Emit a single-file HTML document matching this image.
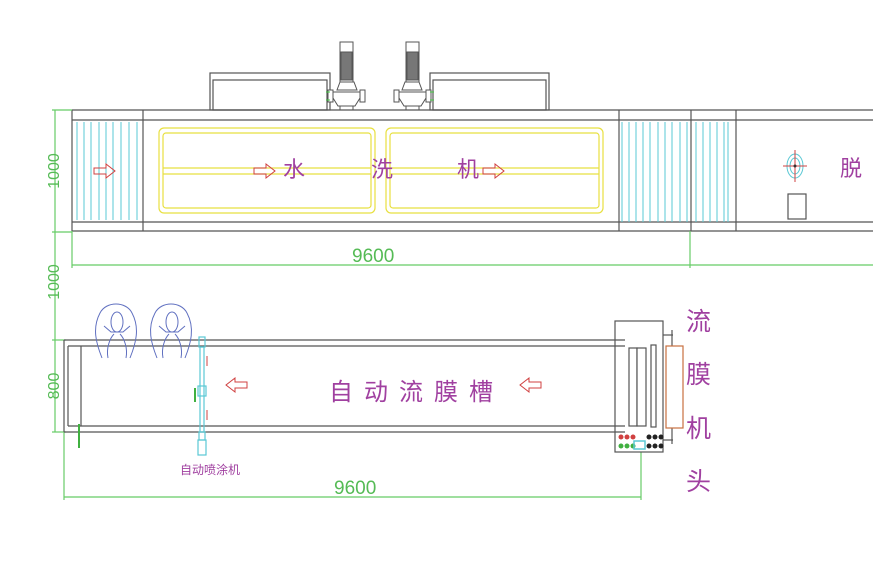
<!DOCTYPE html>
<html><head><meta charset="utf-8"><style>
body{margin:0;background:#fff;width:873px;height:561px;overflow:hidden}
svg{display:block}
text{font-family:"Liberation Sans","Noto Sans CJK SC",sans-serif}
</style></head><body>
<svg width="873" height="561" viewBox="0 0 873 561">
<g fill="none" stroke="#555" stroke-width="1.2">
<!-- top tanks -->
<rect x="210" y="73" width="120" height="37"/><rect x="213" y="80" width="114" height="30"/>
<rect x="430" y="73" width="119" height="37"/><rect x="433" y="80" width="113" height="30"/>
<!-- top machine -->
<line x1="72" y1="110" x2="873" y2="110"/>
<line x1="72" y1="120" x2="873" y2="120"/>
<line x1="72" y1="222" x2="873" y2="222"/>
<line x1="72" y1="231" x2="873" y2="231"/>
<line x1="72" y1="110" x2="72" y2="231"/>
<line x1="143" y1="110" x2="143" y2="231"/>
<line x1="619" y1="110" x2="619" y2="231"/>
<line x1="691" y1="110" x2="691" y2="231"/>
<line x1="736" y1="110" x2="736" y2="231"/>
<rect x="788" y="194" width="18" height="25"/>
</g>
<!-- cyan slats -->
<g stroke="#5ac8d4" stroke-width="1">
<line x1="77" y1="122" x2="77" y2="220"/><line x1="84" y1="122" x2="84" y2="220"/><line x1="91" y1="122" x2="91" y2="220"/><line x1="99" y1="122" x2="99" y2="220"/><line x1="106" y1="122" x2="106" y2="220"/><line x1="113" y1="122" x2="113" y2="220"/><line x1="121" y1="122" x2="121" y2="220"/><line x1="129" y1="122" x2="129" y2="220"/><line x1="137" y1="122" x2="137" y2="220"/>
<line x1="622" y1="122" x2="622" y2="222"/><line x1="629" y1="122" x2="629" y2="222"/><line x1="636" y1="122" x2="636" y2="222"/><line x1="643" y1="122" x2="643" y2="222"/><line x1="650" y1="122" x2="650" y2="222"/><line x1="658" y1="122" x2="658" y2="222"/><line x1="665" y1="122" x2="665" y2="222"/><line x1="672" y1="122" x2="672" y2="222"/><line x1="680" y1="122" x2="680" y2="222"/><line x1="687" y1="122" x2="687" y2="222"/>
<line x1="696" y1="122" x2="696" y2="222"/><line x1="703" y1="122" x2="703" y2="222"/><line x1="710" y1="122" x2="710" y2="222"/><line x1="717" y1="122" x2="717" y2="222"/><line x1="724" y1="122" x2="724" y2="222"/><line x1="728" y1="122" x2="728" y2="222"/>
</g>
<!-- yellow troughs -->
<g fill="none" stroke="#e8e040" stroke-width="1.2">
<rect x="159" y="128" width="216" height="85" rx="5"/><rect x="163" y="133" width="208" height="75" rx="3"/>
<line x1="163" y1="168" x2="371" y2="168"/><line x1="163" y1="174" x2="371" y2="174"/>
<rect x="386" y="128" width="217" height="85" rx="5"/><rect x="390" y="133" width="209" height="75" rx="3"/>
<line x1="390" y1="168" x2="599" y2="168"/><line x1="390" y1="174" x2="599" y2="174"/>
</g>
<!-- arrows right -->
<g fill="none" stroke="#d04040" stroke-width="1">
<path d="M94 168h12v-4l9 7-9 7v-4h-12z"/>
<path d="M254 168h12v-4l9 7-9 7v-4h-12z"/>
<path d="M483 168h12v-4l9 7-9 7v-4h-12z"/>
<path d="M247 382h-12v-4l-9 7 9 7v-4h12z"/>
<path d="M541 382h-12v-4l-9 7 9 7v-4h12z"/>
</g>
<!-- pumps -->
<g fill="#fff" stroke="#555" stroke-width="1">
<rect x="340" y="42" width="13" height="40"/><rect x="341" y="52" width="11" height="28" fill="#777"/>
<path d="M340 82h14l3 8h-20z"/><path d="M333 92h27v6l-5 8h-17l-5-8z"/><rect x="328" y="90" width="5" height="12"/><rect x="360" y="90" width="5" height="12"/><line x1="340" y1="106" x2="340" y2="110"/><line x1="353" y1="106" x2="353" y2="110"/>
<rect x="406" y="42" width="13" height="40"/><rect x="407" y="52" width="11" height="28" fill="#777"/>
<path d="M405 82h14l3 8h-20z"/><path d="M399 92h27v6l-5 8h-17l-5-8z"/><rect x="394" y="90" width="5" height="12"/><rect x="426" y="90" width="5" height="12"/><line x1="406" y1="106" x2="406" y2="110"/><line x1="419" y1="106" x2="419" y2="110"/>
</g>
<g stroke="#4c4" stroke-width="1"><line x1="326" y1="92" x2="330" y2="92"/><line x1="326" y1="100" x2="330" y2="100"/><line x1="430" y1="92" x2="434" y2="92"/><line x1="430" y1="100" x2="434" y2="100"/></g>
<!-- target -->
<g fill="none" stroke="#5ac8d4"><ellipse cx="795" cy="166" rx="8" ry="12"/><ellipse cx="795" cy="166" rx="5" ry="8"/></g>
<g stroke="#d04040"><line x1="783" y1="166" x2="807" y2="166"/><line x1="795" y1="150" x2="795" y2="182"/></g>
<circle cx="795" cy="166" r="1.5" fill="#333"/>
<!-- dimensions -->
<g stroke="#6c6" stroke-width="1.2" fill="none">
<line x1="55" y1="110" x2="55" y2="432"/>
<line x1="52" y1="110" x2="72" y2="110"/><line x1="52" y1="232" x2="72" y2="232"/><line x1="52" y1="340" x2="66" y2="340"/><line x1="52" y1="432" x2="66" y2="432"/>
<line x1="72" y1="265" x2="873" y2="265"/><line x1="72" y1="231" x2="72" y2="268"/><line x1="690" y1="231" x2="690" y2="268"/>
<line x1="64" y1="497" x2="641" y2="497"/><line x1="64" y1="432" x2="64" y2="500"/><line x1="641" y1="452" x2="641" y2="500"/>
</g>
<g fill="#5b5" font-size="16">
<text x="352" y="262" font-size="19">9600</text>
<text x="334" y="494" font-size="19">9600</text>
<text transform="translate(59,171) rotate(-90)" text-anchor="middle">1000</text>
<text transform="translate(59,282) rotate(-90)" text-anchor="middle">1000</text>
<text transform="translate(59,386) rotate(-90)" text-anchor="middle">800</text>
</g>
<!-- bottom tank -->
<g fill="none" stroke="#555" stroke-width="1.2">
<line x1="64" y1="340" x2="625" y2="340"/><line x1="68" y1="346" x2="625" y2="346"/>
<line x1="68" y1="426" x2="625" y2="426"/><line x1="64" y1="432" x2="625" y2="432"/>
<line x1="64" y1="340" x2="64" y2="432"/><line x1="68" y1="346" x2="68" y2="426"/>
<line x1="81" y1="346" x2="81" y2="426"/>
<rect x="615" y="321" width="48" height="131"/>
<rect x="629" y="348" width="8" height="78" fill="#fff"/><rect x="637" y="348" width="9" height="78" fill="#fff"/>
<rect x="651" y="345" width="5" height="82"/>
<line x1="663" y1="335" x2="673" y2="335"/><line x1="663" y1="440" x2="673" y2="440"/>
<line x1="672" y1="330" x2="672" y2="346"/><line x1="672" y1="428" x2="672" y2="444"/>
</g>
<rect x="666" y="346" width="17" height="82" fill="none" stroke="#c87040" stroke-width="1.2"/>
<g fill="#d04040"><circle cx="621" cy="437" r="2.5"/><circle cx="627" cy="437" r="2.5"/><circle cx="633" cy="437" r="2.5"/></g>
<g fill="#40b040"><circle cx="621" cy="446" r="2.5"/><circle cx="627" cy="446" r="2.5"/><circle cx="633" cy="446" r="2.5"/></g>
<rect x="634" y="441" width="11" height="8" fill="none" stroke="#5ac8d4" stroke-width="1.5"/>
<g fill="#222"><circle cx="649" cy="437" r="2.5"/><circle cx="655" cy="437" r="2.5"/><circle cx="661" cy="437" r="2.5"/><circle cx="649" cy="446" r="2.5"/><circle cx="655" cy="446" r="2.5"/><circle cx="661" cy="446" r="2.5"/></g>
<!-- people -->
<g fill="none" stroke="#6070c0" stroke-width="1">
<path d="M102 358c-6-15-10-30-2-45 6-12 26-12 32 0 8 15 4 30-2 45"/><path d="M108 358c-2-10 2-20 6-24M126 358c2-10-2-20-6-24"/><ellipse cx="117" cy="322" rx="6" ry="10"/><path d="M104 326l7 6h12l7-6"/>
<path d="M157 358c-6-15-10-30-2-45 6-12 26-12 32 0 8 15 4 30-2 45"/><path d="M163 358c-2-10 2-20 6-24M181 358c2-10-2-20-6-24"/><ellipse cx="172" cy="322" rx="6" ry="10"/><path d="M159 326l7 6h12l7-6"/>
</g>
<!-- sprayer -->
<g fill="none" stroke="#5ac8d4" stroke-width="1.2">
<rect x="199" y="337" width="6" height="10"/><rect x="200" y="347" width="4" height="85"/><rect x="198" y="386" width="8" height="10"/><rect x="199" y="432" width="6" height="8"/><rect x="198" y="440" width="8" height="15"/>
</g>
<g stroke="#d04040"><line x1="207" y1="356" x2="207" y2="366"/><line x1="207" y1="410" x2="207" y2="420"/></g>
<g stroke="#40b040" stroke-width="2"><line x1="195" y1="388" x2="195" y2="402"/><line x1="79" y1="424" x2="79" y2="448"/></g>
<!-- labels -->
<g fill="#a040a0">
<text x="283" y="177" font-size="22">水</text><text x="371" y="177" font-size="22">洗</text><text x="457" y="177" font-size="22">机</text>
<text x="840" y="176" font-size="22">脱</text>
<text x="329" y="400" font-size="24" letter-spacing="11">自动流膜槽</text>
<text x="180" y="474" font-size="12">自动喷涂机</text>
<text x="686" y="330" font-size="25">流</text><text x="686" y="383" font-size="25">膜</text><text x="686" y="437" font-size="25">机</text><text x="686" y="490" font-size="25">头</text>
</g>
</svg>
</body></html>
